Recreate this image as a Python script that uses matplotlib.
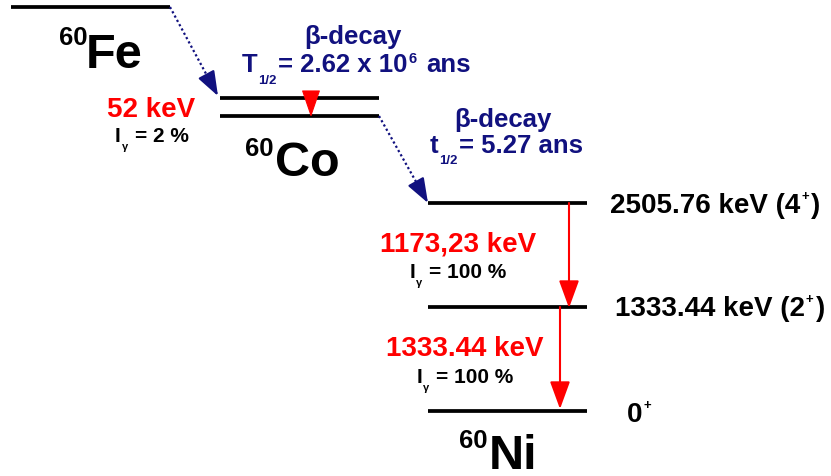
import numpy as np
import matplotlib
matplotlib.use("Agg")
import matplotlib.pyplot as plt

plt.rcParams['font.family'] = ['Liberation Sans', 'DejaVu Sans']
plt.rcParams['font.weight'] = 'bold'

# ---- data (diagram coordinates in pixels, y downwards) ----
nuclides = ['Fe', 'Co', 'Ni']
mass_number = '60'
fe_level_y = [7]
co_level_y = [98, 116]
ni_level_y = [203, 307, 411]
ni_level_energy = ['2505.76 keV (4', '1333.44 keV (2', '0']
ni_level_spin_close = [')', ')', '']
co_gamma_energy = '52 keV'
co_gamma_intensity = '2 %'
ni_gamma_energies = ['1173,23 keV', '1333.44 keV']
ni_gamma_intensities = ['100 %', '100 %']
beta_label = 'β-decay'
halflife_fe = ('T', '1/2', '= 2.62 x 10', '6', ' ans')
halflife_co = ('t', '1/2', '= 5.27 ans')

NAVY = '#11117f'
RED = '#ff0000'

fig = plt.figure(figsize=(8.31, 4.76), dpi=100)
ax = fig.add_axes([0, 0, 1, 1])
ax.set_xlim(0, 831)
ax.set_ylim(476, 0)
ax.axis('off')
renderer = fig.canvas.get_renderer()
PX = 100 / 72

LW = 2.7
fe_x = (11, 170)
co_x = (220, 379)
ni_x = (428, 587)

for y in fe_level_y:
    ax.plot(fe_x, [y, y], color='black', lw=LW, solid_capstyle='butt', zorder=2)
for y in co_level_y:
    ax.plot(co_x, [y, y], color='black', lw=LW, solid_capstyle='butt', zorder=2)
for y in ni_level_y:
    ax.plot(ni_x, [y, y], color='black', lw=LW, solid_capstyle='butt', zorder=2)


def arrow(start, tip, color, hl, hw, lw, dotted=False, z=3):
    start = np.array(start, float)
    tip = np.array(tip, float)
    d = tip - start
    u = d / np.hypot(*d)
    hl_px = hl * PX
    props = dict(arrowstyle=f'-|>,head_length={hl},head_width={hw}',
                 color=color, lw=lw, shrinkA=0, shrinkB=0, mutation_scale=1)
    if dotted:
        base = tip - u * (hl_px + 1)
        ax.plot([start[0], base[0]], [start[1], base[1]], color=color, lw=lw,
                linestyle=(0, (1, 1.2)), zorder=z)
        st = tip - u * (hl_px + 2)
        ax.annotate('', xy=tip, xytext=st, arrowprops=props, zorder=z)
    else:
        ax.annotate('', xy=tip, xytext=start, arrowprops=props, zorder=z)


def rich(x, y, parts, color='black', ha='left'):
    """parts: list of (string, fontsize, dy_px)"""
    items = []
    for s, fs, dy in parts:
        if s == '':
            continue
        nlead = len(s) - len(s.lstrip(' '))
        s2 = s.strip(' ')
        t = ax.text(0, y + dy, s2, fontsize=fs, color=color, ha='left',
                    va='baseline', fontweight='bold')
        w = t.get_window_extent(renderer).width
        gap = nlead * 0.278 * fs * PX + 0.07 * fs * PX
        items.append([t, w, gap])
    if items:
        items[0][2] = 0
    total = sum(w + g for _, w, g in items)
    cx = x - total / 2 if ha == 'center' else x
    for t, w, g in items:
        cx += g
        t.set_x(cx)
        cx += w


# beta decays
arrow((fe_x[1], fe_level_y[0]), (218, co_level_y[0] - 2), NAVY, 15, 5.5, 1.6, dotted=True)
arrow((co_x[1], co_level_y[1]), (428, ni_level_y[0]), NAVY, 15, 5.5, 1.6, dotted=True)

# Co isomeric transition
arrow((311, co_level_y[0] - 6), (311, co_level_y[1] + 1), RED, 17.5, 6.0, 0.8, z=3)

# Ni gamma transitions
arrow((569, ni_level_y[0]), (569, ni_level_y[1] + 1), RED, 17, 6.2, 1.5)
arrow((560, ni_level_y[1]), (560, ni_level_y[2] - 2), RED, 17, 6.2, 1.5)

# nuclide labels
nuc_pos = [(86, 68, 45, 87), (275, 176, 156, 273), (489, 469, 448, 487)]
for name, (x, yb, ys, xs) in zip(nuclides, nuc_pos):
    ax.text(x, yb, name, fontsize=35, fontweight='bold', ha='left', va='baseline', color='black')
    ax.text(xs, ys, mass_number, fontsize=18.5, fontweight='bold', ha='right', va='baseline', color='black')

# beta labels
ax.text(353, 44, beta_label, fontsize=18.5, color=NAVY, ha='center', va='baseline', fontweight='bold')
rich(356, 72, [(halflife_fe[0], 18.5, 0), (halflife_fe[1], 9.5, 12),
               (halflife_fe[2], 18.5, 0), (halflife_fe[3], 10.5, -9),
               (halflife_fe[4], 18.5, 0)], color=NAVY, ha='center')
ax.text(503, 127, beta_label, fontsize=18.5, color=NAVY, ha='center', va='baseline', fontweight='bold')
rich(506, 153, [(halflife_co[0], 18.5, 0), (halflife_co[1], 9.5, 11),
                (halflife_co[2], 18.5, 0)], color=NAVY, ha='center')

# Co gamma
ax.text(151, 117, co_gamma_energy, fontsize=20, color=RED, ha='center', va='baseline', fontweight='bold')
rich(152, 142, [('I', 15, 0), ('γ', 8, 8), (' = ' + co_gamma_intensity, 15, 0)], ha='center')

# Ni gammas
g_pos = [(458, 252, 278), (465, 356, 383)]
for e, inten, (x, y1, y2) in zip(ni_gamma_energies, ni_gamma_intensities, g_pos):
    ax.text(x, y1, e, fontsize=20, color=RED, ha='center', va='baseline', fontweight='bold')
    rich(x, y2, [('I', 15, 0), ('γ', 8, 8), (' = ' + inten, 15, 0)], ha='center')

# Ni level labels
lab_pos = [(610, 213), (615, 316), (627, 422)]
for lab, close, (x, y) in zip(ni_level_energy, ni_level_spin_close, lab_pos):
    rich(x, y, [(lab, 20, 0), ('+', 9.5, -13), (close, 20, 0)])

fig.savefig('out.png', dpi=100)
